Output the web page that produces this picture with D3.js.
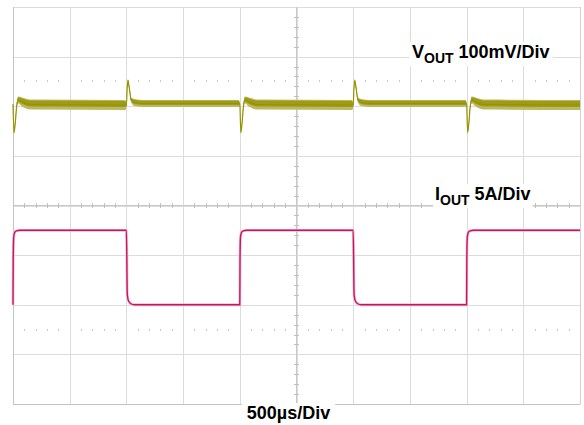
<!DOCTYPE html>
<html>
<head>
<meta charset="utf-8">
<script src="https://cdn.jsdelivr.net/npm/d3@7/dist/d3.min.js"></script>
<style>
  html, body { margin: 0; padding: 0; background: #fff; }
  svg { display: block; }
  text { font-family: "Liberation Sans", Arial, sans-serif; font-weight: bold; fill: #000; }
</style>
</head>
<body>
<svg id="chart" width="584" height="425"></svg>
<script>
// ---------------- DATA ----------------
// Horizontal: 500 µs/div, 10 divisions
const timeDivUs = 500;
const timeDivs = 10;
// Vertical: 8 divisions
const vertDivs = 8;

// Channel settings
const voutScaleMvPerDiv = 100;   // VOUT 100mV/Div (AC-coupled deviation)
const voutOffsetDiv = 2.045;     // position of VOUT 0 mV on screen (divisions above centre)
const ioutScaleAPerDiv = 5;      // IOUT 5A/Div
const ioutOffsetDiv = -2.0;      // position of IOUT 0 A on screen

// VOUT deviation trace: time (µs), mean deviation (mV), noise half-band (mV)
const voutTime = [
  0, 9, 20, 32, 45, 80, 150, 990,
  1000, 1006, 1014, 1025, 1042, 1070, 1150, 1990,
  2000, 2009, 2020, 2032, 2045, 2080, 2150, 2990,
  3000, 3006, 3014, 3025, 3042, 3070, 3150, 3990,
  4000, 4009, 4020, 4032, 4045, 4080, 4150, 5000
];
const voutMean = [
  0, -57, -38, -5, 8, 4, -1, -2,
  -3, 28, 47, 33, 8, 3, 1, 1,
  0, -57, -38, -5, 8, 4, -1, -2,
  -3, 28, 47, 33, 8, 3, 1, 1,
  0, -57, -38, -5, 8, 4, -1, -2
];
const voutNoise = [
  2, 3, 3, 5, 7, 9, 10, 10,
  5, 3, 3, 3, 5, 7, 7, 7,
  3, 3, 3, 5, 7, 9, 10, 10,
  5, 3, 3, 3, 5, 7, 7, 7,
  3, 3, 3, 5, 7, 9, 10, 10
];

// IOUT load-step trace: time (µs), current (A)
const ioutTime = [
  0, 2, 6, 15, 30, 60, 1000,
  1008, 1020, 1040, 1070, 2000,
  2002, 2006, 2015, 2030, 2060, 3000,
  3008, 3020, 3040, 3070, 4000,
  4002, 4006, 4015, 4030, 4060, 5000
];
const ioutAmps = [
  0, 4.5, 6.8, 7.3, 7.45, 7.5, 7.5,
  1.0, 0.35, 0.1, 0, 0,
  4.5, 6.8, 7.3, 7.45, 7.5, 7.5,
  1.0, 0.35, 0.1, 0, 0,
  4.5, 6.8, 7.3, 7.45, 7.5, 7.5
];

// Labels
const voutLabel = { main: "V", sub: "OUT", rest: " 100mV/Div" };
const ioutLabel = { main: "I", sub: "OUT", rest: " 5A/Div" };
const timeLabel = "500µs/Div";

// ---------------- LAYOUT ----------------
const svg = d3.select("#chart");
const plot = { left: 13, right: 580, top: 7, bottom: 404 };

const x = d3.scaleLinear().domain([0, timeDivUs * timeDivs]).range([plot.left, plot.right]);
const yDiv = d3.scaleLinear().domain([-vertDivs / 2, vertDivs / 2]).range([plot.bottom, plot.top]);
const yV = d3.scaleLinear()
  .domain([(-vertDivs / 2 - voutOffsetDiv) * voutScaleMvPerDiv, (vertDivs / 2 - voutOffsetDiv) * voutScaleMvPerDiv])
  .range([plot.bottom, plot.top]);
const yI = d3.scaleLinear()
  .domain([(-vertDivs / 2 - ioutOffsetDiv) * ioutScaleAPerDiv, (vertDivs / 2 - ioutOffsetDiv) * ioutScaleAPerDiv])
  .range([plot.bottom, plot.top]);

// ---------------- GRATICULE ----------------
const grid = svg.append("g");
const xDivTicks = d3.range(0, timeDivs + 1).map(d => d * timeDivUs);
const yDivTicks = d3.range(-vertDivs / 2, vertDivs / 2 + 1);

grid.append("g").attr("transform", `translate(0,${plot.bottom})`)
  .call(d3.axisBottom(x).tickValues(xDivTicks).tickSize(-(plot.bottom - plot.top)).tickFormat(""))
  .call(g => g.select(".domain").remove())
  .call(g => g.selectAll("line").attr("stroke", "#dcdcdc").attr("shape-rendering", "crispEdges"));
grid.append("g").attr("transform", `translate(${plot.left},0)`)
  .call(d3.axisLeft(yDiv).tickValues(yDivTicks).tickSize(-(plot.right - plot.left)).tickFormat(""))
  .call(g => g.select(".domain").remove())
  .call(g => g.selectAll("line").attr("stroke", "#dcdcdc").attr("shape-rendering", "crispEdges"));

// border (left & bottom slightly darker)
grid.append("line").attr("x1", plot.left).attr("x2", plot.left).attr("y1", plot.top).attr("y2", plot.bottom)
  .attr("stroke", "#c4c4c4").attr("shape-rendering", "crispEdges");
grid.append("line").attr("x1", plot.left).attr("x2", plot.right).attr("y1", plot.bottom).attr("y2", plot.bottom)
  .attr("stroke", "#c4c4c4").attr("shape-rendering", "crispEdges");
grid.append("line").attr("x1", plot.right).attr("x2", plot.right).attr("y1", plot.top).attr("y2", plot.bottom)
  .attr("stroke", "#cfcfcf").attr("shape-rendering", "crispEdges");

// center axes with minor ticks (1/5 division)
const minorX = d3.range(0, timeDivs * 5 + 1).map(d => d * timeDivUs / 5).filter((d, i) => i % 5 !== 0);
const minorY = d3.range(-vertDivs / 2 * 5, vertDivs / 2 * 5 + 1).map(d => d / 5).filter((d, i) => i % 5 !== 0);
grid.append("line").attr("x1", plot.left).attr("x2", plot.right).attr("y1", yDiv(0)).attr("y2", yDiv(0))
  .attr("stroke", "#c8c8c8").attr("shape-rendering", "crispEdges");
grid.append("line").attr("x1", x(2500)).attr("x2", x(2500)).attr("y1", plot.top).attr("y2", plot.bottom)
  .attr("stroke", "#c8c8c8").attr("shape-rendering", "crispEdges");
grid.selectAll(".mtx").data(minorX).join("line")
  .attr("x1", d => Math.round(x(d)) + 0.5).attr("x2", d => Math.round(x(d)) + 0.5)
  .attr("y1", yDiv(0) - 2.5).attr("y2", yDiv(0) + 2.5).attr("stroke", "#c0c0c0");
grid.selectAll(".mty").data(minorY).join("line")
  .attr("y1", d => Math.round(yDiv(d)) + 0.5).attr("y2", d => Math.round(yDiv(d)) + 0.5)
  .attr("x1", x(2500) - 2.5).attr("x2", x(2500) + 2.5).attr("stroke", "#c0c0c0");

// dotted marker rows at +/-2.5 div
[2.5, -2.5].forEach(lv => {
  grid.selectAll(null).data(minorX).join("rect")
    .attr("x", d => Math.round(x(d))).attr("y", Math.round(yDiv(lv)) - 1)
    .attr("width", 1).attr("height", 2).attr("fill", "#c8c8c8");
});

// ---------------- TRACES ----------------
const vout = voutTime.map((t, i) => ({ t, m: voutMean[i], n: voutNoise[i] }));
const iout = ioutTime.map((t, i) => ({ t, a: ioutAmps[i] }));

const traces = svg.append("g");
traces.append("path").datum(vout)
  .attr("d", d3.area().x(d => x(d.t)).y0(d => yV(d.m - d.n)).y1(d => yV(d.m + d.n)).curve(d3.curveMonotoneX))
  .attr("fill", "#bcb964");
traces.append("path").datum(vout)
  .attr("d", d3.area().x(d => x(d.t)).y0(d => yV(d.m - d.n * 0.4)).y1(d => yV(d.m + d.n * 0.8)).curve(d3.curveMonotoneX))
  .attr("fill", "#9f9b16");
traces.append("path").datum(vout)
  .attr("d", d3.line().x(d => x(d.t)).y(d => yV(d.m)).curve(d3.curveMonotoneX))
  .attr("fill", "none").attr("stroke", "#979300").attr("stroke-width", 1.2);

const iLine = d3.line().x(d => x(d.t)).y(d => yI(d.a)).curve(d3.curveMonotoneX);
traces.append("path").datum(iout).attr("d", iLine)
  .attr("fill", "none").attr("stroke", "#f2c0d6").attr("stroke-width", 2.8);
traces.append("path").datum(iout).attr("d", iLine)
  .attr("fill", "none").attr("stroke", "#c8165e").attr("stroke-width", 1.4);

// ---------------- LABELS ----------------
function label(g, lab, xPos, yBase) {
  const t = g.append("text").attr("x", xPos).attr("y", yBase).attr("font-size", 18);
  t.append("tspan").text(lab.main);
  t.append("tspan").attr("font-size", 14).attr("dy", 5).text(lab.sub);
  t.append("tspan").attr("dy", -5).text(lab.rest);
  return t;
}
function withBg(g, t, padX, padY) {
  const b = t.node().getBBox();
  g.insert("rect", "text").attr("x", b.x - padX).attr("y", b.y - padY)
    .attr("width", b.width + 2 * padX).attr("height", b.height + 2 * padY).attr("fill", "#fff");
}
const lg = svg.append("g");
const lv = label(lg, voutLabel, 412, 58);
withBg(lg, lv, 3, 0);
const li = label(lg, ioutLabel, 435, 200);
withBg(lg, li, 2, 0);
const lt = lg.append("text").attr("x", 288.5).attr("y", 419).attr("text-anchor", "middle")
  .attr("font-size", 18).text(timeLabel);
withBg(lg, lt, 5, 0);
</script>
</body>
</html>
